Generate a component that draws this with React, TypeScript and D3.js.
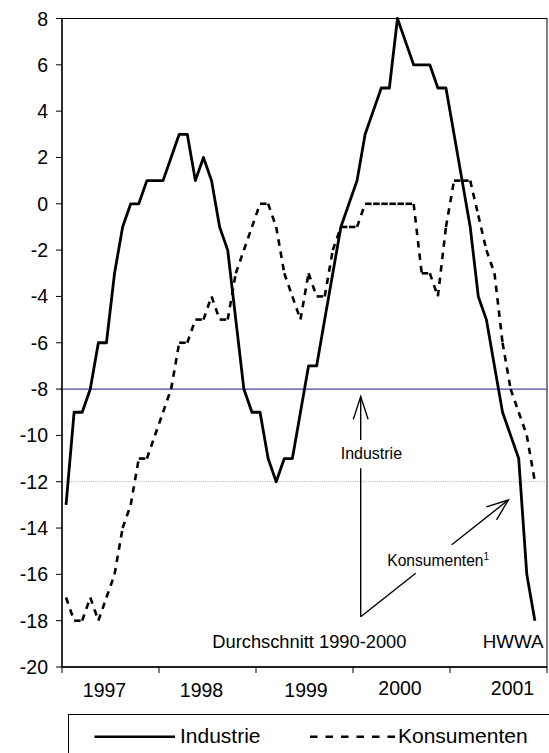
import React from 'react';
import * as d3 from 'd3';

const years = ['1997', '1998', '1999', '2000', '2001'];
const months = years.flatMap((yr) => d3.range(1, 13).map((m) => `${yr}-${String(m).padStart(2, '0')}`));

const industrie = [
  -13, -9, -9, -8, -6, -6, -3, -1, 0, 0, 1, 1,
  1, 2, 3, 3, 1, 2, 1, -1, -2, -5, -8, -9,
  -9, -11, -12, -11, -11, -9, -7, -7, -5, -3, -1, 0,
  1, 3, 4, 5, 5, 8, 7, 6, 6, 6, 5, 5,
  3, 1, -1, -4, -5, -7, -9, -10, -11, -16, -18,
];

const konsumenten = [
  -17, -18, -18, -17, -18, -17, -16, -14, -13, -11, -11, -10,
  -9, -8, -6, -6, -5, -5, -4, -5, -5, -3, -2, -1,
  0, 0, -1, -3, -4, -5, -3, -4, -4, -2, -1, -1,
  -1, 0, 0, 0, 0, 0, 0, 0, -3, -3, -4, -1,
  1, 1, 1, -0.5, -2, -3, -6, -8, -9, -10, -12,
];

const yTicks = d3.range(-20, 9, 2);
const industrieAverage = -8;
const konsumentenAverage = -12;
const seriesNames = ['Industrie', 'Konsumenten'];
const yearLabelOffsets = [-6, -6, 1.5, -1.5, 14];

const W = 549;
const H = 753;
const P = { left: 62, top: 18.5, right: 547, bottom: 667 };
const FONT = "'Liberation Sans', Arial, Helvetica, sans-serif";

function arrowHead(tx: number, ty: number, fx: number, fy: number, len: number, ang: number) {
  const dx = fx - tx;
  const dy = fy - ty;
  const l = Math.hypot(dx, dy);
  const ux = dx / l;
  const uy = dy / l;
  const a = (ang * Math.PI) / 180;
  const r = (s: number) => [
    tx + len * (ux * Math.cos(s * a) - uy * Math.sin(s * a)),
    ty + len * (ux * Math.sin(s * a) + uy * Math.cos(s * a)),
  ];
  const p1 = r(1);
  const p2 = r(-1);
  return `M${p1[0]},${p1[1]}L${tx},${ty}L${p2[0]},${p2[1]}`;
}

export default function App() {
  const x = d3.scaleBand<string>().domain(months).range([P.left, P.right]).padding(0);
  const cx = (i: number) => (x(months[i]) as number) + x.bandwidth() / 2;
  const y = d3.scaleLinear().domain([-20, 8]).range([P.bottom, P.top]);

  const line = d3
    .line<number>()
    .x((_, i) => cx(i))
    .y((d) => y(d));

  const kPts = konsumenten.map((v, i) => [cx(i), y(v)] as [number, number]);
  const segLine = d3.line<[number, number]>();
  const kSegs = d3.pairs(kPts).map((p) => segLine(p) as string);

  const yearStarts = years.map((yr) => x(`${yr}-01`) as number);
  const yearW = x.bandwidth() * 12;

  // annotation geometry
  const vx = 360.7;
  const vTop = y(industrieAverage) + 7.5;
  const vBottom = 616.7;
  const dTip = [508.3, 500];
  const dirx = dTip[0] - vx;
  const diry = dTip[1] - vBottom;
  const pt = (t: number) => [vx + dirx * t, vBottom + diry * t];
  const g1 = pt(0.3726);
  const g2 = pt(0.6165);

  return (
    <svg
      width={W}
      height={H}
      style={{ position: 'absolute', left: 0, top: 0, background: '#fff' }}
      fontFamily={FONT}
    >
      <rect x={0} y={0} width={W} height={H} fill="#fff" />

      {/* plot frame */}
      <rect
        x={P.left}
        y={P.top}
        width={P.right - P.left}
        height={P.bottom - P.top}
        fill="none"
        stroke="#000"
        strokeWidth={1}
      />

      {/* reference lines */}
      <line
        x1={P.left - 2}
        x2={P.right}
        y1={y(industrieAverage)}
        y2={y(industrieAverage)}
        stroke="#4646a8"
        strokeWidth={1.3}
      />
      <line
        x1={P.left - 2}
        x2={P.right}
        y1={y(konsumentenAverage)}
        y2={y(konsumentenAverage)}
        stroke="#999"
        strokeWidth={0.8}
        strokeDasharray="1,1.2"
      />

      {/* y axis */}
      <line x1={P.left} x2={P.left} y1={P.top} y2={P.bottom} stroke="#000" strokeWidth={1.3} />
      {yTicks.map((t) => (
        <g key={t}>
          <line x1={P.left - 6} x2={P.left} y1={y(t)} y2={y(t)} stroke="#000" strokeWidth={1} />
          <text x={48} y={y(t) + 7} fontSize={19.5} textAnchor="end" fill="#000">
            {t}
          </text>
        </g>
      ))}

      {/* x axis */}
      <line x1={P.left} x2={P.right} y1={P.bottom} y2={P.bottom} stroke="#000" strokeWidth={1.3} />
      {[...yearStarts, P.right].map((xs, i) => (
        <line key={i} x1={xs} x2={xs} y1={P.bottom} y2={P.bottom + 6} stroke="#000" strokeWidth={1} />
      ))}
      {years.map((yr, i) => (
        <text
          key={yr}
          x={yearStarts[i] + yearW / 2 + yearLabelOffsets[i]}
          y={i >= 3 ? 695 : 697}
          fontSize={19.5}
          textAnchor="middle"
          fill="#000"
        >
          {yr}
        </text>
      ))}

      {/* series */}
      <path
        d={line(industrie) as string}
        fill="none"
        stroke="#000"
        strokeWidth={2.8}
        strokeLinejoin="round"
      />
      {kSegs.map((d, i) => (
        <path key={i} d={d} fill="none" stroke="#000" strokeWidth={2.6} strokeDasharray="6.5,6" />
      ))}

      {/* annotations */}
      <g stroke="#000" strokeWidth={1.4} fill="none">
        <line x1={vx} x2={vx} y1={vTop} y2={440} />
        <line x1={vx} x2={vx} y1={468.3} y2={vBottom} />
        <path d={arrowHead(vx, vTop, vx, vBottom, 24, 18)} />
        <line x1={vx} y1={vBottom} x2={g1[0]} y2={g1[1]} />
        <line x1={g2[0]} y1={g2[1]} x2={dTip[0]} y2={dTip[1]} />
        <path d={arrowHead(dTip[0], dTip[1], vx, vBottom, 23, 21)} />
      </g>
      <text x={340.7} y={459} fontSize={16} fill="#000">
        {seriesNames[0]}
      </text>
      <text x={387.3} y={566} fontSize={15.6} fill="#000">
        {seriesNames[1]}
        <tspan fontSize={10} dy={-6.5}>
          1
        </tspan>
      </text>
      <text x={212.3} y={648} fontSize={18.3} fill="#000">
        Durchschnitt 1990-2000
      </text>
      <text x={543.5} y={648} fontSize={18.8} textAnchor="end" fill="#000">
        HWWA
      </text>

      {/* legend */}
      <rect x={68.5} y={714.5} width={490} height={60} fill="#fff" stroke="#000" strokeWidth={1} />
      <line x1={94.5} x2={175} y1={736.7} y2={736.7} stroke="#000" strokeWidth={2.6} />
      <text x={180} y={743.3} fontSize={21} fill="#000">
        {seriesNames[0]}
      </text>
      <line
        x1={310}
        x2={395}
        y1={736.7}
        y2={736.7}
        stroke="#000"
        strokeWidth={2.6}
        strokeDasharray="7.5,8"
      />
      <text x={398} y={743.3} fontSize={21} fill="#000">
        {seriesNames[1]}
      </text>
    </svg>
  );
}
